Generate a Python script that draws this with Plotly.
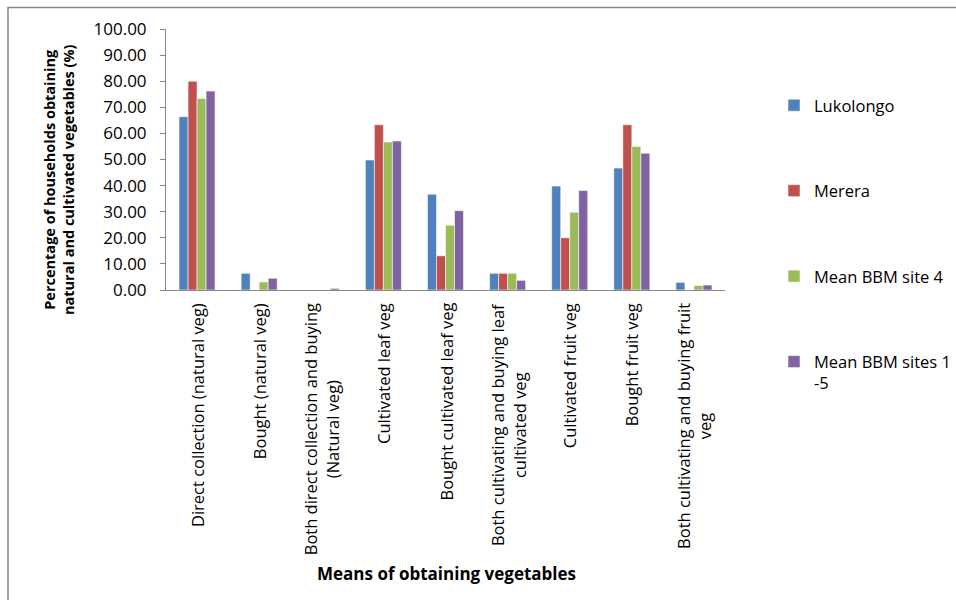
import plotly.graph_objects as go

# Means of obtaining vegetables (x categories)
categories = [
    "Direct collection (natural veg)",
    "Bought (natural veg)",
    "Both direct collection and buying<br>(Natural veg)",
    "Cultivated leaf veg",
    "Bought cultivated leaf veg",
    "Both cultivating and buying leaf<br>cultivated veg",
    "Cultivated fruit veg",
    "Bought fruit veg",
    "Both cultivating and buying fruit<br>veg",
]

# Percentage of households per site
lukolongo = [66.4, 6.4, 0.0, 49.8, 36.7, 6.4, 39.8, 46.7, 2.9]
merera = [80.0, 0.0, 0.0, 63.3, 13.1, 6.4, 20.0, 63.3, 0.0]
bbm_site4 = [73.4, 3.1, 0.0, 56.7, 24.8, 6.4, 29.8, 55.0, 1.7]
bbm_sites_1_5 = [76.2, 4.5, 0.6, 57.1, 30.4, 3.7, 38.1, 52.4, 1.9]

series_names = ["Lukolongo", "Merera", "Mean BBM site 4", "Mean BBM sites 1<br>-5"]
series_values = [lukolongo, merera, bbm_site4, bbm_sites_1_5]
series_colors = ["#4F81BD", "#C0504D", "#9BBB59", "#8064A2"]

y_ticks = [0, 10, 20, 30, 40, 50, 60, 70, 80, 90, 100]

FONT = "Open Sans"

W, H = 956, 600
L, R, T, B = 166, 231, 29, 310
PW, PH = W - L - R, H - T - B


def px_x(px):
    return (px - L) / PW


def px_y(py):
    return (H - B - py) / PH


fig = go.Figure()
for name, vals, col in zip(series_names, series_values, series_colors):
    fig.add_trace(go.Bar(
        x=categories, y=vals, name=name, legendgroup=name,
        marker=dict(color=col, line=dict(color="rgba(255,255,255,0.55)", width=1)),
    ))

# rotated category labels with centred lines
for cat in categories:
    fig.add_annotation(
        x=cat, xref="x", y=px_y(301), yref="paper",
        text=cat, textangle=-90, showarrow=False,
        xanchor="center", yanchor="top", align="center",
        font=dict(family=FONT, size=16.5, color="#000000"),
    )

# axis titles
fig.add_annotation(
    x=px_x(446), xref="paper", y=px_y(573), yref="paper",
    text="<b>Means of obtaining vegetables</b>", showarrow=False,
    xanchor="center", yanchor="middle",
    font=dict(family=FONT, size=17, color="#000000"),
)
fig.add_annotation(
    x=px_x(59), xref="paper", y=px_y(180), yref="paper",
    text="<b>Percentage of households obtaining<br>natural and cultivated vegetables (%)</b>",
    textangle=-90, showarrow=False, xanchor="center", yanchor="middle", align="center",
    font=dict(family=FONT, size=14.5, color="#000000"),
)

# outer chart frame
fig.add_shape(
    type="rect", xref="paper", yref="paper",
    x0=px_x(8), x1=px_x(965), y0=px_y(610), y1=px_y(7.5),
    line=dict(color="#888888", width=1.5), fillcolor="rgba(0,0,0,0)", layer="below",
)

fig.update_layout(
    width=W, height=H,
    margin=dict(l=L, r=R, t=T, b=B, autoexpand=False),
    paper_bgcolor="white", plot_bgcolor="white",
    barmode="group", bargap=0.42, bargroupgap=0,
    font=dict(family=FONT, color="#000000"),
    showlegend=True,
    legend=dict(
        x=px_x(774), xanchor="left", y=px_y(88), yanchor="top",
        traceorder="grouped", tracegroupgap=61, valign="top",
        maxheight=560,
        font=dict(family=FONT, size=16.5, color="#000000"),
        bgcolor="rgba(0,0,0,0)",
    ),
    xaxis=dict(
        showticklabels=False, showgrid=False, zeroline=False,
        showline=True, linecolor="#888888", linewidth=1, ticks="",
    ),
    yaxis=dict(
        range=[0, 100], tickvals=y_ticks, tickformat=".2f",
        showgrid=False, zeroline=False,
        showline=True, linecolor="#888888", linewidth=1,
        ticks="outside", ticklen=5, tickcolor="#888888",
        ticklabelstandoff=10,
        tickfont=dict(family=FONT, size=17, color="#000000"),
    ),
)

fig.write_html("out.html")
